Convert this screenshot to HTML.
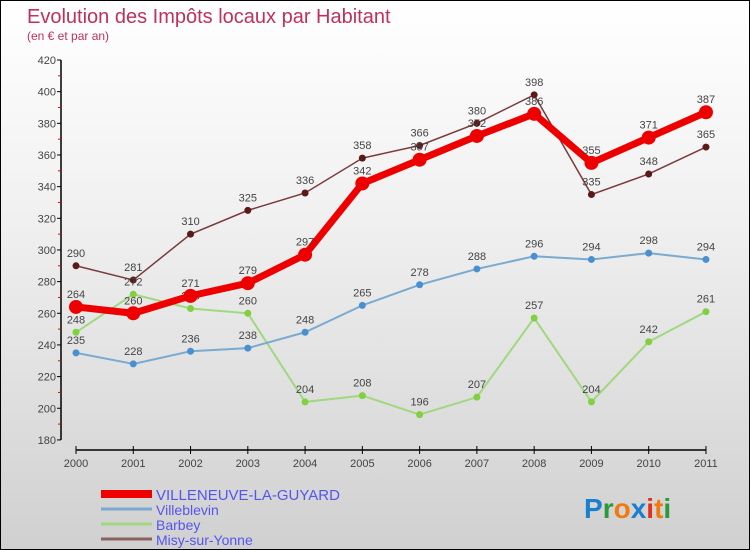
<!DOCTYPE html>
<html><head><meta charset="utf-8"><style>
body{margin:0;}
#c{width:748px;height:548px;border:1px solid #000;background:linear-gradient(#fff,#f0f0f0 40%,#d0d0d0);position:relative;font-family:"Liberation Sans",sans-serif;overflow:hidden}
svg{position:absolute;left:0;top:0}
</style></head><body>
<div id="c">
<svg id="s" width="748" height="548">
<text x="26" y="22" font-size="20" fill="#c0305a">Evolution des Impôts locaux par Habitant</text>
<text x="26" y="39" font-size="12" fill="#c0305a">(en € et par an)</text>
<g id="axes"></g><g id="series"></g><g id="legend"></g>
<text x="583" y="517" font-size="28" font-weight="bold"><tspan fill="#1a7fd0">P</tspan><tspan fill="#2a9a3a">r</tspan><tspan fill="#f07a10">o</tspan><tspan fill="#1a7fd0">x</tspan><tspan fill="#e03020">i</tspan><tspan fill="#f07a10">t</tspan><tspan fill="#2a9a3a">i</tspan></text>
</svg></div>
<script>
const years=["2000","2001","2002","2003","2004","2005","2006","2007","2008","2009","2010","2011"];
const yTicks=[180,200,220,240,260,280,300,320,340,360,380,400,420];
const villeneuve=[264,260,271,279,297,342,357,372,386,355,371,387];
const villeblevin=[235,228,236,238,248,265,278,288,296,294,298,294];
const barbey=[248,272,263,260,204,208,196,207,257,204,242,261];
const misy=[290,281,310,325,336,358,366,380,398,335,348,365];
const seriesNames=["VILLENEUVE-LA-GUYARD","Villeblevin","Barbey","Misy-sur-Yonne"];
const NS="http://www.w3.org/2000/svg";
const X=i=>75+i*57.27, Y=v=>59+(420-v)*1.583;
function mk(tag,at,parent){const e=document.createElementNS(NS,tag);for(const k in at)e.setAttribute(k,at[k]);parent.appendChild(e);return e;}
const ax=document.getElementById('axes'),sg=document.getElementById('series'),lg=document.getElementById('legend');
let a=mk('line',{x1:60,y1:Y(420),x2:60,y2:Y(180),stroke:'#000','stroke-width':1.5},ax);

yTicks.forEach((t,i)=>{
 mk('line',{x1:56,y1:Y(t),x2:60,y2:Y(t),stroke:'#000'},ax);
 if(i<yTicks.length-1)mk('line',{x1:57,y1:Y(t+10),x2:60,y2:Y(t+10),stroke:'#e00'},ax);
 const tx=mk('text',{x:55,y:Y(t)+4,'font-size':11,fill:'#444','text-anchor':'end'},ax);tx.textContent=t;
 
 
});
a=mk('line',{x1:75,y1:449,x2:X(11),y2:449,stroke:'#000','stroke-width':1.5},ax);

years.forEach((y,i)=>{
 mk('line',{x1:X(i),y1:445,x2:X(i),y2:453,stroke:'#000'},ax);
 const tx=mk('text',{x:X(i),y:466,'font-size':11,fill:'#444','text-anchor':'middle'},ax);tx.textContent=y;
 
 
});
const defs=[[misy,'#7a3a3a','#5a1a1a',1.5,3.5,seriesNames[3]],[barbey,'#a0d880','#80d040',2,3.5,seriesNames[2]],[villeblevin,'#7aaad0','#4a90d0',2,3.5,seriesNames[1]],[villeneuve,'#ee0000','#ee0000',7,7,seriesNames[0]]];
defs.forEach(([d,c,pc,w,r,n])=>{
 const g=mk('g',{},sg);
 
 
 mk('polyline',{points:d.map((v,i)=>X(i)+','+Y(v)).join(' '),fill:'none',stroke:c,'stroke-width':w},g);
 d.forEach((v,i)=>{
  const p=mk('circle',{cx:X(i),cy:Y(v),r:r,fill:pc},g);
  
  
  const t=mk('text',{x:X(i),y:Y(v)-9,'font-size':11,fill:'#444','text-anchor':'middle'},g);t.textContent=v;
  
  
 });
});
[[seriesNames[0],'#ee0000',8],[seriesNames[1],'#7aaad0',3],[seriesNames[2],'#a0d880',3],[seriesNames[3],'#8a6060',3]].forEach(([n,c,h],i)=>{
 const yy=493+i*15;
 const g=mk('g',{},lg);
 
 
 mk('rect',{x:100,y:yy-h/2,width:51,height:h,fill:c},g);
 const t=mk('text',{x:155,y:yy+6,'font-size':i==0?15:14,fill:'#5555ee'},g);t.textContent=n;
});
</script>
</body></html>
